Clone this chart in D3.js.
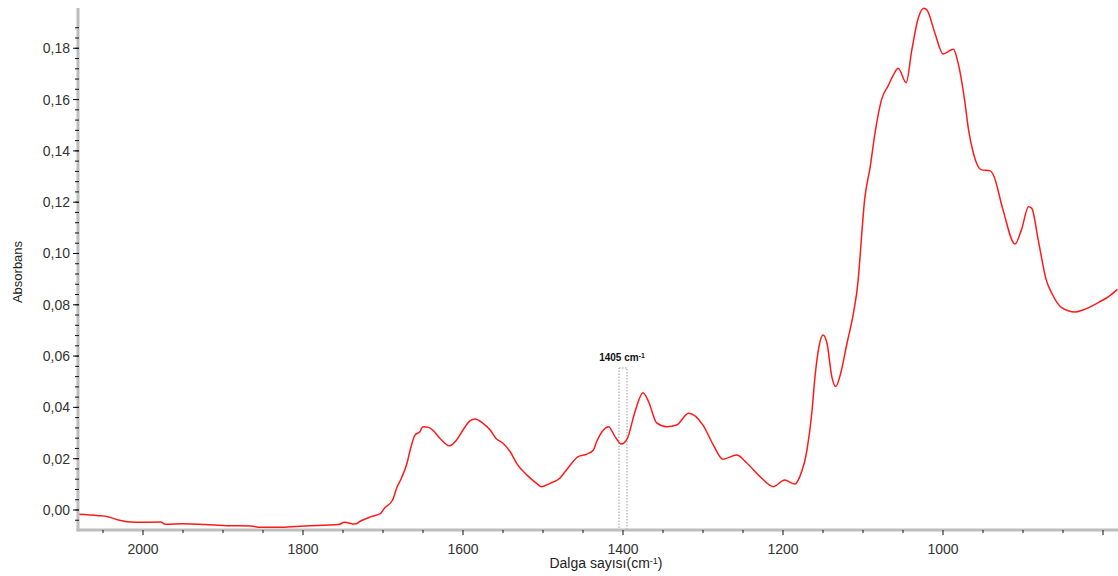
<!DOCTYPE html>
<html lang="en">
    <head>
        <meta charset="utf-8">
        <title>FTIR spectrum</title>
        <script src="https://d3js.org/d3.v7.min.js"></script>
        <style type="text/css">
            body { margin: 0; background: white; }
            .ticklabel { font-family: "Liberation Sans", Arial, sans-serif; font-size: 14px; fill: #333; }
            .axislabel { font-family: "Liberation Sans", Arial, sans-serif; font-size: 14px; fill: #222; }
            .note { font-family: "Liberation Sans", Arial, sans-serif; font-size: 10px; font-weight: bold; fill: #111; }
        </style>
    </head>
    <body>
        <script type="text/javascript">
            // spectrum: wavenumber (cm-1) and absorbance
            const wavenumber = [2081, 2056, 2044, 2031, 2010, 1978, 1972, 1950, 1922, 1894, 1865, 1856, 1827, 1798, 1756, 1748, 1735,
                1728, 1715, 1703, 1698, 1688, 1683, 1677, 1670, 1666, 1660, 1654, 1650, 1643, 1637, 1629, 1617, 1608, 1600,
                1591, 1585, 1575, 1566, 1559, 1550, 1541, 1533, 1520, 1508, 1502, 1491, 1479, 1470, 1456, 1445, 1437, 1433,
                1418, 1410, 1402, 1395, 1385, 1375, 1368, 1358, 1345, 1333, 1318, 1300, 1287, 1275, 1258, 1245, 1229, 1212,
                1198, 1185, 1179, 1170, 1164, 1160, 1155, 1150, 1145, 1139, 1134, 1129, 1120, 1112, 1106, 1104, 1098, 1091,
                1085, 1077, 1068, 1062, 1056, 1046, 1039, 1031, 1024, 1020, 1010, 1000, 987, 981, 973, 968, 962, 952, 941,
                937, 925, 910, 902, 893, 889, 881, 871, 864, 852, 835, 825, 804, 793, 782];
            const absorbance = [-0.0017, -0.0022, -0.0026, -0.0039, -0.0048, -0.0047, -0.0056, -0.0054, -0.0057, -0.0061, -0.0062,
                -0.0067, -0.0067, -0.0062, -0.0057, -0.0048, -0.0055, -0.0043, -0.0026, -0.0013, 0.0008, 0.0039, 0.0085,
                0.0124, 0.0182, 0.0234, 0.0292, 0.0305, 0.0325, 0.0322, 0.0309, 0.0280, 0.0250, 0.0273, 0.0312, 0.0348,
                0.0355, 0.0338, 0.0312, 0.0280, 0.0260, 0.0227, 0.0182, 0.0136, 0.0104, 0.0091, 0.0104, 0.0124, 0.0159,
                0.0208, 0.0218, 0.0234, 0.0266, 0.0325, 0.0286, 0.0257, 0.0276, 0.0383, 0.0457, 0.0422, 0.0340, 0.0325,
                0.0331, 0.0377, 0.0331, 0.0253, 0.0198, 0.0214, 0.0182, 0.0131, 0.0091, 0.0117, 0.0101, 0.0130, 0.0234,
                0.0377, 0.0520, 0.0637, 0.0682, 0.0650, 0.0520, 0.0481, 0.0520, 0.0650, 0.0767, 0.0897, 0.0975, 0.1209,
                0.1338, 0.1469, 0.1598, 0.1657, 0.1696, 0.1722, 0.1666, 0.1793, 0.1917, 0.1956, 0.1949, 0.1858, 0.1778,
                0.1796, 0.1741, 0.1598, 0.1481, 0.1391, 0.1326, 0.1322, 0.1306, 0.1170, 0.1037, 0.1092, 0.1182, 0.1176,
                0.1053, 0.0897, 0.0845, 0.0790, 0.0772, 0.0780, 0.0812, 0.0832, 0.0860];

            const xTickLabels = [2000, 1800, 1600, 1400, 1200, 1000];
            const yTickLabels = [0, 0.02, 0.04, 0.06, 0.08, 0.10, 0.12, 0.14, 0.16, 0.18];
            const band = [1405, 1395];
            const bandLabel = "1405 cm";

            const data = wavenumber.map((w, i) => ({w: w, a: absorbance[i]}));

            //constants
            const w = 1118;
            const h = 576;
            const padL = 78, padR = 1118, padT = 8, padB = 530;

            const x = d3.scaleLinear().domain([2081.25, 781.25]).range([padL, padR]);
            const y = d3.scaleLinear().domain([-0.0078, 0.1957]).range([padB, padT]);

            const svg = d3.select("body")
                          .append("svg")
                          .attr("width", w)
                          .attr("height", h);

            //annotation box
            svg.append("rect")
               .attr("x", x(band[0]))
               .attr("y", 368)
               .attr("width", x(band[1]) - x(band[0]))
               .attr("height", padB - 368)
               .attr("fill", "none")
               .attr("stroke", "#999")
               .attr("stroke-width", 1)
               .attr("stroke-dasharray", "1.5,1.5");

            const note = svg.append("text")
               .attr("class", "note")
               .attr("x", x(1400) - 1)
               .attr("y", 361)
               .attr("text-anchor", "middle");
            note.append("tspan").text(bandLabel);
            note.append("tspan").attr("dy", -3).attr("font-size", "7px").text("-1");

            //spectrum
            const line = d3.line()
                           .x(d => x(d.w))
                           .y(d => y(d.a))
                           .curve(d3.curveMonotoneX);

            svg.append("path")
               .datum(data)
               .attr("fill", "none")
               .attr("stroke", "#ff1a1a")
               .attr("stroke-width", 1.5)
               .attr("d", line);

            //axes lines (thick gray)
            svg.append("line")
               .attr("x1", padL).attr("x2", padL)
               .attr("y1", padT).attr("y2", padB + 1.5)
               .attr("stroke", "#bdbdbd").attr("stroke-width", 3);
            svg.append("line")
               .attr("x1", padL - 1.5).attr("x2", padR)
               .attr("y1", padB).attr("y2", padB)
               .attr("stroke", "#bdbdbd").attr("stroke-width", 3);

            //y ticks
            const yMinor = d3.range(0, 49).map(i => -0.004 + i * 0.004).filter(v => v >= -0.0078 && v <= 0.1957);
            svg.selectAll("line.yminor")
               .data(yMinor)
               .enter()
               .append("line")
               .attr("class", "yminor")
               .attr("x1", padL - 3).attr("x2", padL + 1)
               .attr("y1", d => y(d)).attr("y2", d => y(d))
               .attr("stroke", "#111").attr("stroke-width", 1);
            svg.selectAll("line.ymajor")
               .data(yTickLabels)
               .enter()
               .append("line")
               .attr("class", "ymajor")
               .attr("x1", padL - 5).attr("x2", padL + 1)
               .attr("y1", d => y(d)).attr("y2", d => y(d))
               .attr("stroke", "#111").attr("stroke-width", 1);
            svg.selectAll("text.ylab")
               .data(yTickLabels)
               .enter()
               .append("text")
               .attr("class", "ticklabel")
               .attr("x", padL - 8)
               .attr("y", d => y(d) + 5)
               .attr("text-anchor", "end")
               .text(d => d3.format(".2f")(d).replace(".", ","));

            //x ticks
            const xMinor = d3.range(800, 2100, 50);
            svg.selectAll("line.xminor")
               .data(xMinor)
               .enter()
               .append("line")
               .attr("class", "xminor")
               .attr("x1", d => x(d)).attr("x2", d => x(d))
               .attr("y1", padB).attr("y2", d => d % 200 === 0 ? padB + 5 : padB + 3)
               .attr("stroke", "#111").attr("stroke-width", 1);
            svg.selectAll("text.xlab")
               .data(xTickLabels)
               .enter()
               .append("text")
               .attr("class", "ticklabel")
               .attr("x", d => x(d))
               .attr("y", 554)
               .attr("text-anchor", "middle")
               .text(d => d);

            //axis titles
            const xt = svg.append("text")
               .attr("class", "axislabel")
               .attr("x", 606)
               .attr("y", 568)
               .attr("text-anchor", "middle");
            xt.append("tspan").text("Dalga sayısı(cm");
            xt.append("tspan").attr("dy", -4).attr("font-size", "9px").text("-1");
            xt.append("tspan").attr("dy", 4).text(")");

            svg.append("text")
               .attr("class", "axislabel")
               .attr("style", "font-size:13px")
               .attr("transform", "translate(22,272) rotate(-90)")
               .attr("text-anchor", "middle")
               .text("Absorbans");
        </script>
    </body>
</html>
